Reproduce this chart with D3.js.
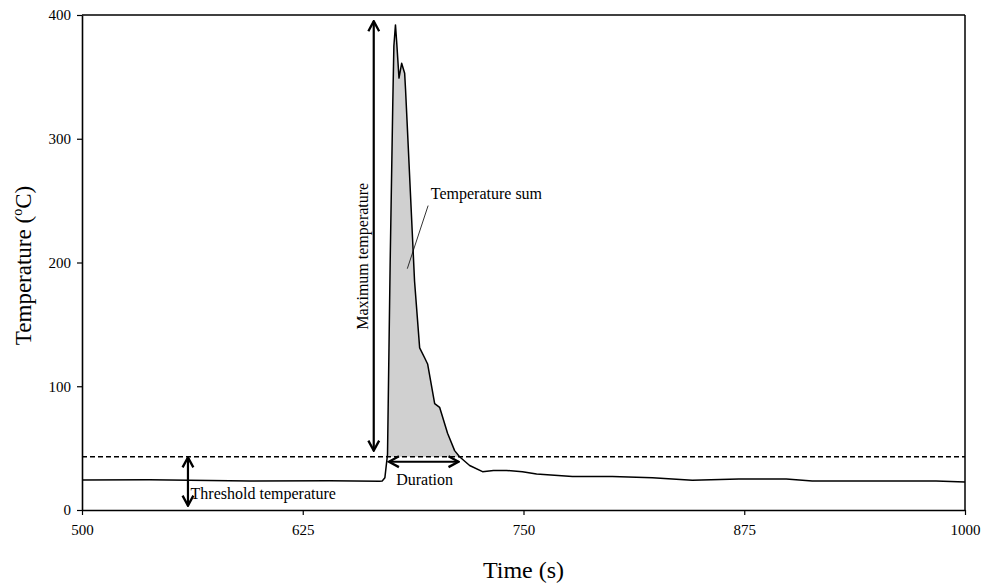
<!DOCTYPE html>
<html>
<head>
<meta charset="utf-8">
<script src="https://cdn.jsdelivr.net/npm/d3@7"></script>
<style>
  body { margin: 0; background: #fff; }
  text { font-family: "Liberation Serif", "Times New Roman", serif; fill: #000; }
</style>
</head>
<body>
<svg id="grafico"></svg>
<script>
"use strict"

// temperature record
const tempos = [500, 538, 595, 640, 668.5, 670, 671.5, 673, 674.5, 676, 676.6, 677.5, 678.2, 679.5,
  681, 682.7, 683.2, 684.2, 688.3, 691.2, 694, 695.7, 699.7, 702.5, 707, 711, 713.8, 719.5,
  726.8, 733, 740.4, 749.4, 757.4, 777.7, 800.3, 823, 845.6, 872, 898.8, 913.5, 955, 983.6, 1000];
const temperaturas = [24.2, 24.5, 23.5, 23.6, 23.3, 23.5, 26, 45, 200, 330, 375, 392, 378, 349,
  361, 353, 340, 310, 185, 131, 123, 118, 86, 83, 62, 48, 43, 36,
  31, 32, 32, 31, 29, 27, 27, 26, 24, 25, 25, 23.5, 23.5, 23.5, 22.6];
const limiar = 43;
const ticksX = [500, 625, 750, 875, 1000];
const ticksY = [0, 100, 200, 300, 400];

function iniciar(){
  const largura = 985, altura = 583;
  const margem = { esquerda: 82, direita: 20, superior: 15, inferior: 73 };
  const svg = d3.select('#grafico').attr('width', largura).attr('height', altura);

  const lp = largura - margem.esquerda - margem.direita;
  const ap = altura - margem.superior - margem.inferior;

  const x = d3.scaleLinear().domain([500, 1000]).range([0, lp]);
  const y = d3.scaleLinear().domain([0, 400]).range([ap, 0]);

  const defs = svg.append('defs');
  defs.append('marker')
      .attr('id', 'seta')
      .attr('viewBox', '0 0 10 10')
      .attr('refX', 9).attr('refY', 5)
      .attr('markerWidth', 7).attr('markerHeight', 7)
      .attr('markerUnits', 'strokeWidth')
      .attr('orient', 'auto-start-reverse')
    .append('path')
      .attr('d', 'M2.5,1.5 L9,5 L2.5,8.5')
      .attr('fill', 'none').attr('stroke', '#000').attr('stroke-width', 1.5);

  const g = svg.append('g')
      .attr('transform', `translate(${margem.esquerda},${margem.superior})`);

  const dados = tempos.map((t, i) => ({ t: t, v: temperaturas[i] }));

  // shaded area above the threshold
  const acima = dados.filter(d => d.v >= limiar);
  g.append('path')
    .datum(acima)
    .attr('fill', '#d0d0d0')
    .attr('d', d3.area().x(d => x(d.t)).y0(y(limiar)).y1(d => y(d.v)));

  // box
  g.append('line').attr('x1', 0).attr('x2', lp).attr('y1', 0).attr('y2', 0)
    .attr('stroke', '#000').attr('stroke-width', 1.5);
  g.append('line').attr('x1', lp).attr('x2', lp).attr('y1', 0).attr('y2', ap)
    .attr('stroke', '#000').attr('stroke-width', 1.5);

  // threshold line
  g.append('line')
    .attr('x1', 0).attr('x2', lp)
    .attr('y1', y(limiar)).attr('y2', y(limiar))
    .attr('stroke', '#000').attr('stroke-width', 1.5)
    .attr('stroke-dasharray', '5,3');

  // curve
  g.append('path')
    .datum(dados)
    .attr('fill', 'none')
    .attr('stroke', '#000')
    .attr('stroke-width', 1.5)
    .attr('stroke-linejoin', 'round')
    .attr('d', d3.line().x(d => x(d.t)).y(d => y(d.v)));

  // axes
  const eixoX = g.append('g').attr('transform', `translate(0,${ap})`)
    .call(d3.axisBottom(x).tickValues(ticksX).tickFormat(d3.format('d'))
      .tickSize(5).tickSizeOuter(0).tickPadding(9));
  const eixoY = g.append('g')
    .call(d3.axisLeft(y).tickValues(ticksY).tickSize(5).tickSizeOuter(0).tickPadding(6));
  [eixoX, eixoY].forEach(e => {
    e.select('.domain').attr('stroke-width', 1.6);
    e.selectAll('.tick line').attr('stroke-width', 1.2);
    e.selectAll('.tick text').style('font-family', '"Liberation Serif", serif').style('font-size', '15px');
  });

  // axis titles
  svg.append('text')
    .attr('x', margem.esquerda + lp / 2).attr('y', 578)
    .attr('text-anchor', 'middle').style('font-size', '24px')
    .text('Time (s)');
  const ty = svg.append('text')
    .attr('transform', `translate(31,${margem.superior + ap / 2 + 3}) rotate(-90)`)
    .attr('text-anchor', 'middle').style('font-size', '23px');
  ty.append('tspan').text('Temperature (');
  ty.append('tspan').attr('dy', -9).style('font-size', '14px').text('o');
  ty.append('tspan').attr('dy', 9).text('C)');

  // annotations
  const seta = (x1, y1, x2, y2) => g.append('line')
    .attr('x1', x1).attr('y1', y1).attr('x2', x2).attr('y2', y2)
    .attr('stroke', '#000').attr('stroke-width', 2.2)
    .attr('marker-start', 'url(#seta)').attr('marker-end', 'url(#seta)');

  seta(x(665.2), y(48), x(665.2), y(395));
  g.append('text')
    .attr('transform', `translate(${x(665.2) - 6},${y(205)}) rotate(-90)`)
    .attr('text-anchor', 'middle').style('font-size', '16px')
    .text('Maximum temperature');

  seta(x(560), y(3.5), x(560), y(limiar - 0.5));
  g.append('text')
    .attr('x', x(561.5)).attr('y', y(9))
    .style('font-size', '16px')
    .text('Threshold temperature');

  seta(x(673.8), y(39), x(713.2), y(39));
  g.append('text')
    .attr('x', x(694)).attr('y', y(20))
    .attr('text-anchor', 'middle').style('font-size', '16px')
    .text('Duration');

  g.append('line')
    .attr('x1', x(684.2)).attr('y1', y(195))
    .attr('x2', x(696)).attr('y2', y(246))
    .attr('stroke', '#000').attr('stroke-width', 0.8);
  g.append('text')
    .attr('x', x(697.5)).attr('y', y(251))
    .style('font-size', '16px')
    .text('Temperature sum');
}

window.addEventListener('load', iniciar, false);
</script>
</body>
</html>
